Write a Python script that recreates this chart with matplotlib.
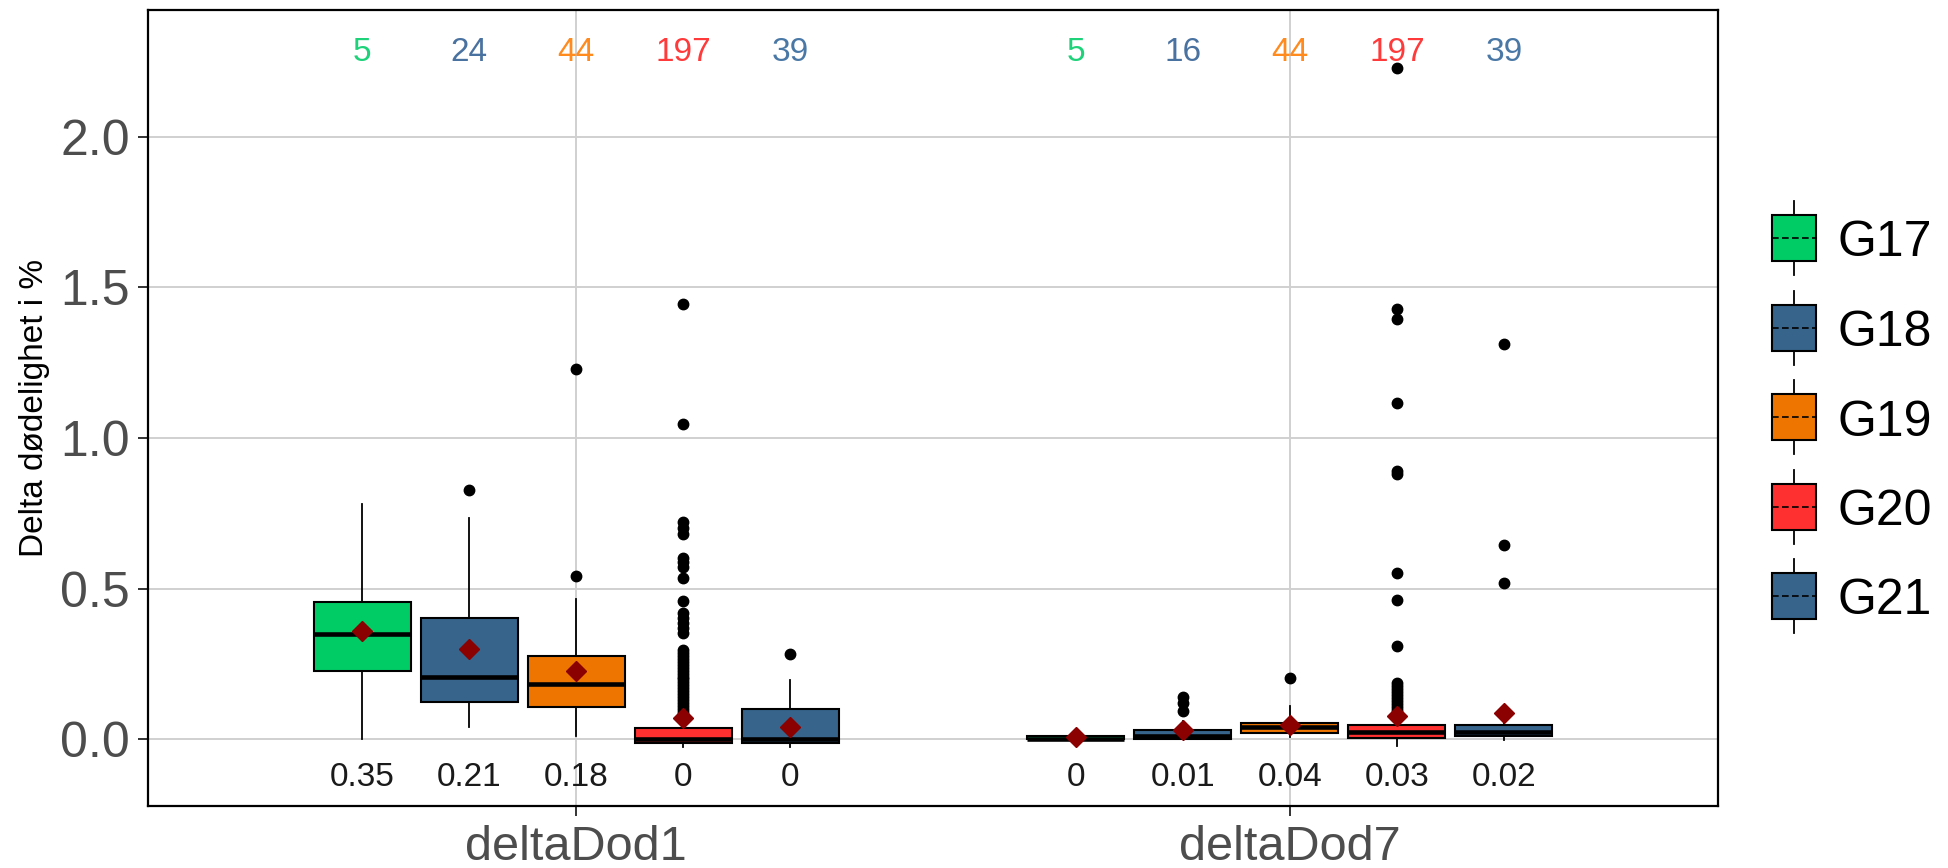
import matplotlib
matplotlib.use("Agg")
import matplotlib.pyplot as plt
from matplotlib.patches import Rectangle
from matplotlib.lines import Line2D

plt.rcParams['font.family'] = ['Liberation Sans', 'DejaVu Sans']

# ---------------- data ----------------
variables = ["deltaDod1", "deltaDod7"]
groups = ["G17", "G18", "G19", "G20", "G21"]
fill_colors = ["#00CC66", "#36648B", "#EE7600", "#FF3030", "#36648B"]
text_colors = ["#1ED27A", "#4A72A0", "#FF8A1E", "#FF3A3A", "#4A78A6"]

counts_d1 = [5, 24, 44, 197, 39]
counts_d7 = [5, 16, 44, 197, 39]
median_labels_d1 = ["0.35", "0.21", "0.18", "0", "0"]
median_labels_d7 = ["0", "0.01", "0.04", "0.03", "0.02"]

# deltaDod1 box statistics
q1_d1 = [0.225, 0.124, 0.106, -0.011, -0.011]
med_d1 = [0.349, 0.206, 0.184, 0.0, 0.0]
q3_d1 = [0.456, 0.401, 0.275, 0.039, 0.101]
wlo_d1 = [0.0, 0.042, 0.011, -0.027, -0.027]
whi_d1 = [0.782, 0.733, 0.467, 0.06, 0.197]
mean_d1 = [0.361, 0.298, 0.227, 0.070, 0.042]
fliers_d1 = [
    [],
    [0.826],
    [1.228, 0.542],
    [1.443, 1.048, 0.72, 0.70, 0.68, 0.602, 0.588, 0.571, 0.535, 0.458, 0.419,
     0.402, 0.386, 0.369, 0.353, 0.297, 0.287, 0.277, 0.267, 0.257, 0.247,
     0.237, 0.227, 0.217, 0.208, 0.20, 0.19, 0.18, 0.17, 0.16, 0.15, 0.14,
     0.13, 0.12, 0.11, 0.10, 0.09, 0.08, 0.07],
    [0.283],
]

# deltaDod7 box statistics
q1_d7 = [0.0, 0.0, 0.02, 0.003, 0.011]
med_d7 = [0.002, 0.01, 0.042, 0.025, 0.025]
q3_d7 = [0.01, 0.031, 0.055, 0.048, 0.048]
wlo_d7 = [0.0, 0.0, 0.008, -0.022, -0.002]
whi_d7 = [0.012, 0.06, 0.111, 0.08, 0.06]
mean_d7 = [0.007, 0.031, 0.046, 0.078, 0.086]
fliers_d7 = [
    [],
    [0.142, 0.12, 0.095],
    [0.205],
    [2.227, 1.427, 1.394, 1.116, 0.889, 0.879, 0.552, 0.463, 0.308, 0.186,
     0.176, 0.166, 0.156, 0.146, 0.136, 0.126, 0.116, 0.106, 0.096, 0.086],
    [1.313, 0.646, 0.519],
]

y_ticks = [0.0, 0.5, 1.0, 1.5, 2.0]
y_tick_labels = ["0.0", "0.5", "1.0", "1.5", "2.0"]
y_label = "Delta dødelighet i %"

# ---------------- figure ----------------
W, H = 1949, 868
fig = plt.figure(figsize=(W / 100, H / 100), dpi=100)
ax = fig.add_axes([148 / W, 1 - 806 / H, (1718 - 148) / W, (806 - 9.5) / H])

dodge = 0.15
box_w = 0.136

blocks = [
    (1, q1_d1, med_d1, q3_d1, wlo_d1, whi_d1, mean_d1, fliers_d1, counts_d1, median_labels_d1),
    (2, q1_d7, med_d7, q3_d7, wlo_d7, whi_d7, mean_d7, fliers_d7, counts_d7, median_labels_d7),
]

for base, q1, med, q3, wlo, whi, mn, fl, cnt, mlab in blocks:
    stats = []
    positions = []
    for i in range(len(groups)):
        stats.append(dict(q1=q1[i], med=med[i], q3=q3[i], whislo=wlo[i],
                          whishi=whi[i], mean=mn[i], fliers=fl[i]))
        positions.append(base + (i - 2) * dodge)
    bp = ax.bxp(stats, positions=positions, widths=box_w, patch_artist=True,
                showmeans=True, showcaps=False, manage_ticks=False,
                boxprops=dict(edgecolor="black", linewidth=1.5),
                medianprops=dict(color="black", linewidth=3.3, solid_capstyle="butt"),
                whiskerprops=dict(color="black", linewidth=1.3),
                flierprops=dict(marker="o", markerfacecolor="black",
                                markeredgecolor="black", markersize=7.5),
                meanprops=dict(marker="D", markerfacecolor="#8B0000",
                               markeredgecolor="#8B0000", markersize=10))
    for patch, c in zip(bp["boxes"], fill_colors):
        patch.set_facecolor(c)
    for m in bp["means"]:
        m.set_zorder(4)
    for i, p in enumerate(positions):
        ax.text(p, 2.252, str(cnt[i]), color=text_colors[i], ha="center",
                va="baseline", fontsize=24)
        ax.text(p, -0.155, mlab[i], color="#1A1A1A", ha="center",
                va="baseline", fontsize=24)

ax.set_xlim(0.4, 2.6)
ax.set_ylim(-0.2214, 2.422)
ax.set_xticks([1, 2])
ax.set_xticklabels(variables)
ax.set_yticks(y_ticks)
ax.set_yticklabels(y_tick_labels)
ax.tick_params(axis="y", labelsize=36, labelcolor="#4D4D4D", color="#333333",
               length=7, width=1.4, pad=6)
ax.tick_params(axis="x", labelsize=35, labelcolor="#4D4D4D", color="#333333",
               length=7, width=1.4, pad=7)
ax.set_axisbelow(True)
ax.grid(True, color="#D0D0D0", linewidth=1.4)
for s in ax.spines.values():
    s.set_color("black")
    s.set_linewidth(1.6)
ax.set_ylabel(y_label, fontsize=24, color="black")
ax.yaxis.set_label_coords(-0.0624, 0.5)

# ---------------- legend ----------------
leg = fig.add_axes([0, 0, 1, 1], facecolor="none")
leg.set_xlim(0, W)
leg.set_ylim(H, 0)
leg.axis("off")
for i, (g, c) in enumerate(zip(groups, fill_colors)):
    yc = 238 + i * 89.5
    leg.add_patch(Rectangle((1772, yc - 23), 44, 46, facecolor=c,
                            edgecolor="black", linewidth=1.5))
    leg.add_line(Line2D([1794, 1794], [yc - 37, yc - 23], color="black", linewidth=1.3))
    leg.add_line(Line2D([1794, 1794], [yc + 23, yc + 37], color="black", linewidth=1.3))
    leg.add_line(Line2D([1772, 1816], [yc, yc], color="black", linewidth=1.2,
                        linestyle=(0, (4, 2))))
    leg.text(1838, yc + 18.5, g, fontsize=36, color="black", ha="left", va="baseline")

fig.savefig("out.png", dpi=100)
